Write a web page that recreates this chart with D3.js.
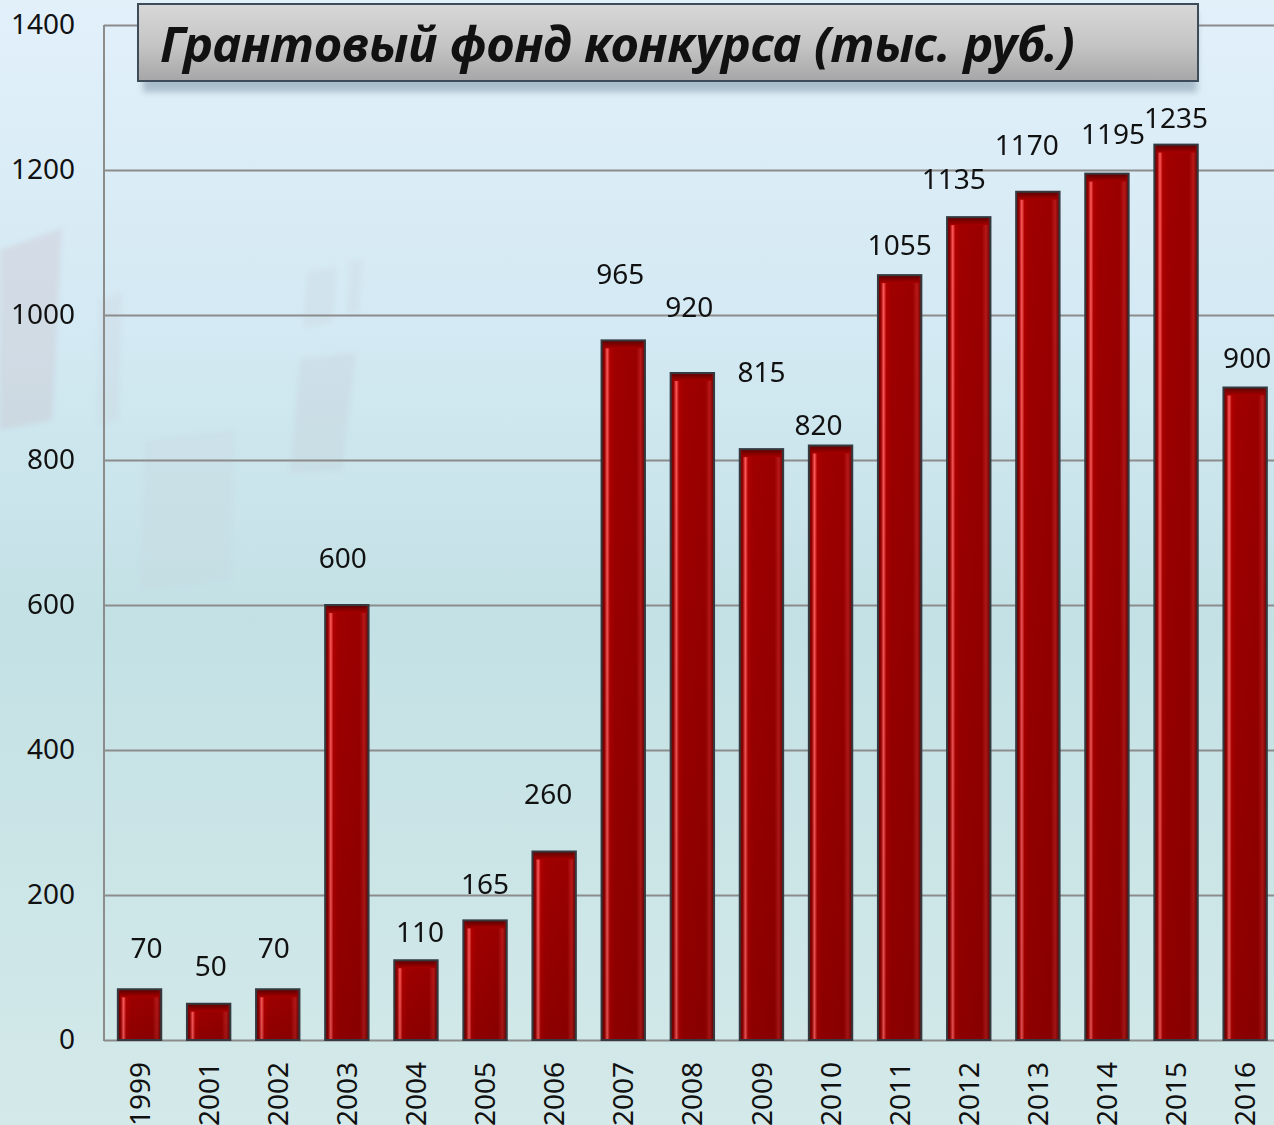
<!DOCTYPE html>
<html>
<head>
<meta charset="utf-8">
<script src="https://cdn.jsdelivr.net/npm/d3@7"></script>
<style>
  html, body { margin: 0; padding: 0; background: #d6eaf0; }
  svg { display: block; }
</style>
</head>
<body>
<div id="chart"></div>
<script>
// chart values
const years = ["1999", "2001", "2002", "2003", "2004", "2005", "2006", "2007", "2008",
               "2009", "2010", "2011", "2012", "2013", "2014", "2015", "2016"];
const funds = [70, 50, 70, 600, 110, 165, 260, 965, 920, 815, 820, 1055, 1135, 1170, 1195, 1235, 900];
const yTicks = [0, 200, 400, 600, 800, 1000, 1200, 1400];
const titleText = "Грантовый фонд конкурса (тыс. руб.)";

// hand placed label nudges [dx, lift above bar top] as in the original slide
const labelNudge = [[7, 31], [2, 28], [-4, 31], [-4, 37], [4, 18], [0, 26], [-6, 48], [-3, 56], [-3, 56],
                    [0, 67], [-12, 11], [0, 20], [-15, 28], [-11, 37], [6, 30], [0, 17], [2, 20]];

const chartW = 1274, chartH = 1125;
const plotLeft = 104, plotRight = 1274, plotTop = 25, plotBottom = 1040;
const font = "'Noto Sans', 'Open Sans', sans-serif";

let data = years.map(function(d, i) { return {year: d, value: funds[i], nudge: labelNudge[i]}; });

let svg = d3.select("#chart")
    .append("svg")
    .attr("width", chartW)
    .attr("height", chartH);

let defs = svg.append("defs");

// background
let bg = defs.append("linearGradient").attr("id", "bg")
    .attr("x1", 0).attr("y1", 0).attr("x2", 0).attr("y2", 1);
[["0%", "#e2f0fa"], ["30%", "#d3e9f3"], ["55%", "#c3e1e5"], ["100%", "#d4e9e9"]].forEach(function(s) {
    bg.append("stop").attr("offset", s[0]).attr("stop-color", s[1]);
});

// bar body, across
let barH = defs.append("linearGradient").attr("id", "barH")
    .attr("x1", 0).attr("y1", 0).attr("x2", 1).attr("y2", 0);
[["0%", "#5e0000"], ["7%", "#9c0000"], ["13%", "#ff5a5a"], ["19%", "#b00000"], ["30%", "#a00000"],
 ["80%", "#9a0000"], ["90%", "#b81818"], ["100%", "#640000"]].forEach(function(s) {
    barH.append("stop").attr("offset", s[0]).attr("stop-color", s[1]);
});

let barTop = defs.append("linearGradient").attr("id", "barTop")
    .attr("x1", 0).attr("y1", 0).attr("x2", 0).attr("y2", 1);
barTop.append("stop").attr("offset", "0%").attr("stop-color", "#5a0000");
barTop.append("stop").attr("offset", "100%").attr("stop-color", "#a80000");

let barShade = defs.append("linearGradient").attr("id", "barShade")
    .attr("x1", 0).attr("y1", 0).attr("x2", 0).attr("y2", 1);
barShade.append("stop").attr("offset", "0%").attr("stop-color", "#000").attr("stop-opacity", 0);
barShade.append("stop").attr("offset", "100%").attr("stop-color", "#000").attr("stop-opacity", 0.12);

let titleGrad = defs.append("linearGradient").attr("id", "titleGrad")
    .attr("x1", 0).attr("y1", 0).attr("x2", 0).attr("y2", 1);
titleGrad.append("stop").attr("offset", "0%").attr("stop-color", "#d8d8d8");
titleGrad.append("stop").attr("offset", "55%").attr("stop-color", "#c4c4c4");
titleGrad.append("stop").attr("offset", "100%").attr("stop-color", "#a6a6a8");

let shadow = defs.append("filter").attr("id", "shadow")
    .attr("x", "-5%").attr("y", "-20%").attr("width", "110%").attr("height", "160%");
shadow.append("feGaussianBlur").attr("stdDeviation", 3);

let ghost = defs.append("filter").attr("id", "ghost");
ghost.append("feGaussianBlur").attr("stdDeviation", 2.5);

svg.append("rect").attr("width", chartW).attr("height", chartH).attr("fill", "url(#bg)");

// faint photo behind the chart
let ghosts = [
    {pts: "0,250 62,228 52,420 0,430", c: "#c9a9b0", o: 0.22},
    {pts: "100,300 122,292 118,420 98,425", c: "#c9b9bf", o: 0.12},
    {pts: "145,440 235,430 230,580 140,590", c: "#c6cfd3", o: 0.18},
    {pts: "300,360 356,353 342,470 290,472", c: "#c1c9cf", o: 0.28},
    {pts: "308,272 336,268 332,322 304,326", c: "#c5c9cf", o: 0.2},
    {pts: "350,262 362,260 358,312 348,314", c: "#c5c9cf", o: 0.18}
];
svg.append("g").attr("filter", "url(#ghost)")
    .selectAll("polygon").data(ghosts).enter()
    .append("polygon")
    .attr("points", function(d) { return d.pts; })
    .attr("fill", function(d) { return d.c; })
    .attr("opacity", function(d) { return d.o; });

let x = d3.scaleBand()
    .domain(years)
    .range([plotLeft + 1, plotLeft + 1 + 17 * 69.1])
    .paddingInner(0.372)
    .paddingOuter(0.186);

let y = d3.scaleLinear()
    .domain([0, 1400])
    .range([plotBottom, plotTop]);

// grid + y labels
let yAxis = svg.append("g")
    .attr("transform", `translate(${plotLeft}, 0)`)
    .call(d3.axisLeft(y).tickValues(yTicks).tickFormat(d3.format("d"))
        .tickSize(-(plotRight - plotLeft)).tickPadding(29));
yAxis.select(".domain").remove();
yAxis.selectAll("line").attr("stroke", "#8c8c8c").attr("stroke-width", 2);
yAxis.selectAll("text")
    .attr("font-family", font)
    .attr("font-size", 28)
    .attr("fill", "#111");

svg.append("line")
    .attr("x1", plotLeft).attr("x2", plotLeft)
    .attr("y1", plotTop).attr("y2", plotBottom + 1)
    .attr("stroke", "#8c8c8c").attr("stroke-width", 2);

// bars
let bars = svg.append("g").selectAll("g.bar").data(data).enter()
    .append("g").attr("class", "bar");

bars.append("rect")
    .attr("x", function(d) { return x(d.year); })
    .attr("y", function(d) { return y(d.value); })
    .attr("width", x.bandwidth())
    .attr("height", function(d) { return y(0) - y(d.value); })
    .attr("fill", "url(#barH)");

bars.append("rect")
    .attr("x", function(d) { return x(d.year); })
    .attr("y", function(d) { return y(d.value); })
    .attr("width", x.bandwidth())
    .attr("height", function(d) { return y(0) - y(d.value); })
    .attr("fill", "url(#barShade)");

bars.append("rect")
    .attr("x", function(d) { return x(d.year) + 2; })
    .attr("y", function(d) { return y(d.value); })
    .attr("width", x.bandwidth() - 4)
    .attr("height", function(d) { return Math.min(8, y(0) - y(d.value)); })
    .attr("fill", "url(#barTop)");

bars.append("rect")
    .attr("x", function(d) { return x(d.year); })
    .attr("y", function(d) { return y(d.value); })
    .attr("width", x.bandwidth())
    .attr("height", function(d) { return y(0) - y(d.value); })
    .attr("fill", "none")
    .attr("stroke", "#343a3f")
    .attr("stroke-width", 2);

// value labels
svg.append("g").selectAll("text").data(data).enter()
    .append("text")
    .attr("x", function(d) { return x(d.year) + x.bandwidth() / 2 + d.nudge[0]; })
    .attr("y", function(d) { return y(d.value) - d.nudge[1]; })
    .attr("text-anchor", "middle")
    .attr("font-family", font)
    .attr("font-size", 28)
    .attr("fill", "#111")
    .text(function(d) { return d.value; });

// year labels
let xAxis = svg.append("g")
    .attr("transform", `translate(0, ${plotBottom})`)
    .call(d3.axisBottom(x).tickSize(0));
xAxis.select(".domain").remove();
xAxis.selectAll("text")
    .attr("transform", "rotate(-90)")
    .attr("text-anchor", "end")
    .attr("x", -22)
    .attr("y", 0)
    .attr("dy", "0.36em")
    .attr("font-family", font)
    .attr("font-size", 28)
    .attr("fill", "#111");

// title box
svg.append("rect")
    .attr("x", 143).attr("y", 12)
    .attr("width", 1054).attr("height", 80)
    .attr("fill", "#7f96a6")
    .attr("opacity", 0.55)
    .attr("filter", "url(#shadow)");

svg.append("rect")
    .attr("x", 138).attr("y", 4)
    .attr("width", 1060).attr("height", 77)
    .attr("fill", "url(#titleGrad)")
    .attr("stroke", "#3e4b58")
    .attr("stroke-width", 2);

let title = svg.append("text")
    .attr("x", 160).attr("y", 62)
    .attr("font-family", font)
    .attr("font-weight", "bold")
    .attr("font-style", "italic")
    .attr("font-size", 46)
    .attr("fill", "#111")
    .text(titleText);

// fit the title to the width it has on the slide
let tw = title.node().getComputedTextLength();
title.attr("font-size", 46 * 915 / tw);
</script>
</body>
</html>
